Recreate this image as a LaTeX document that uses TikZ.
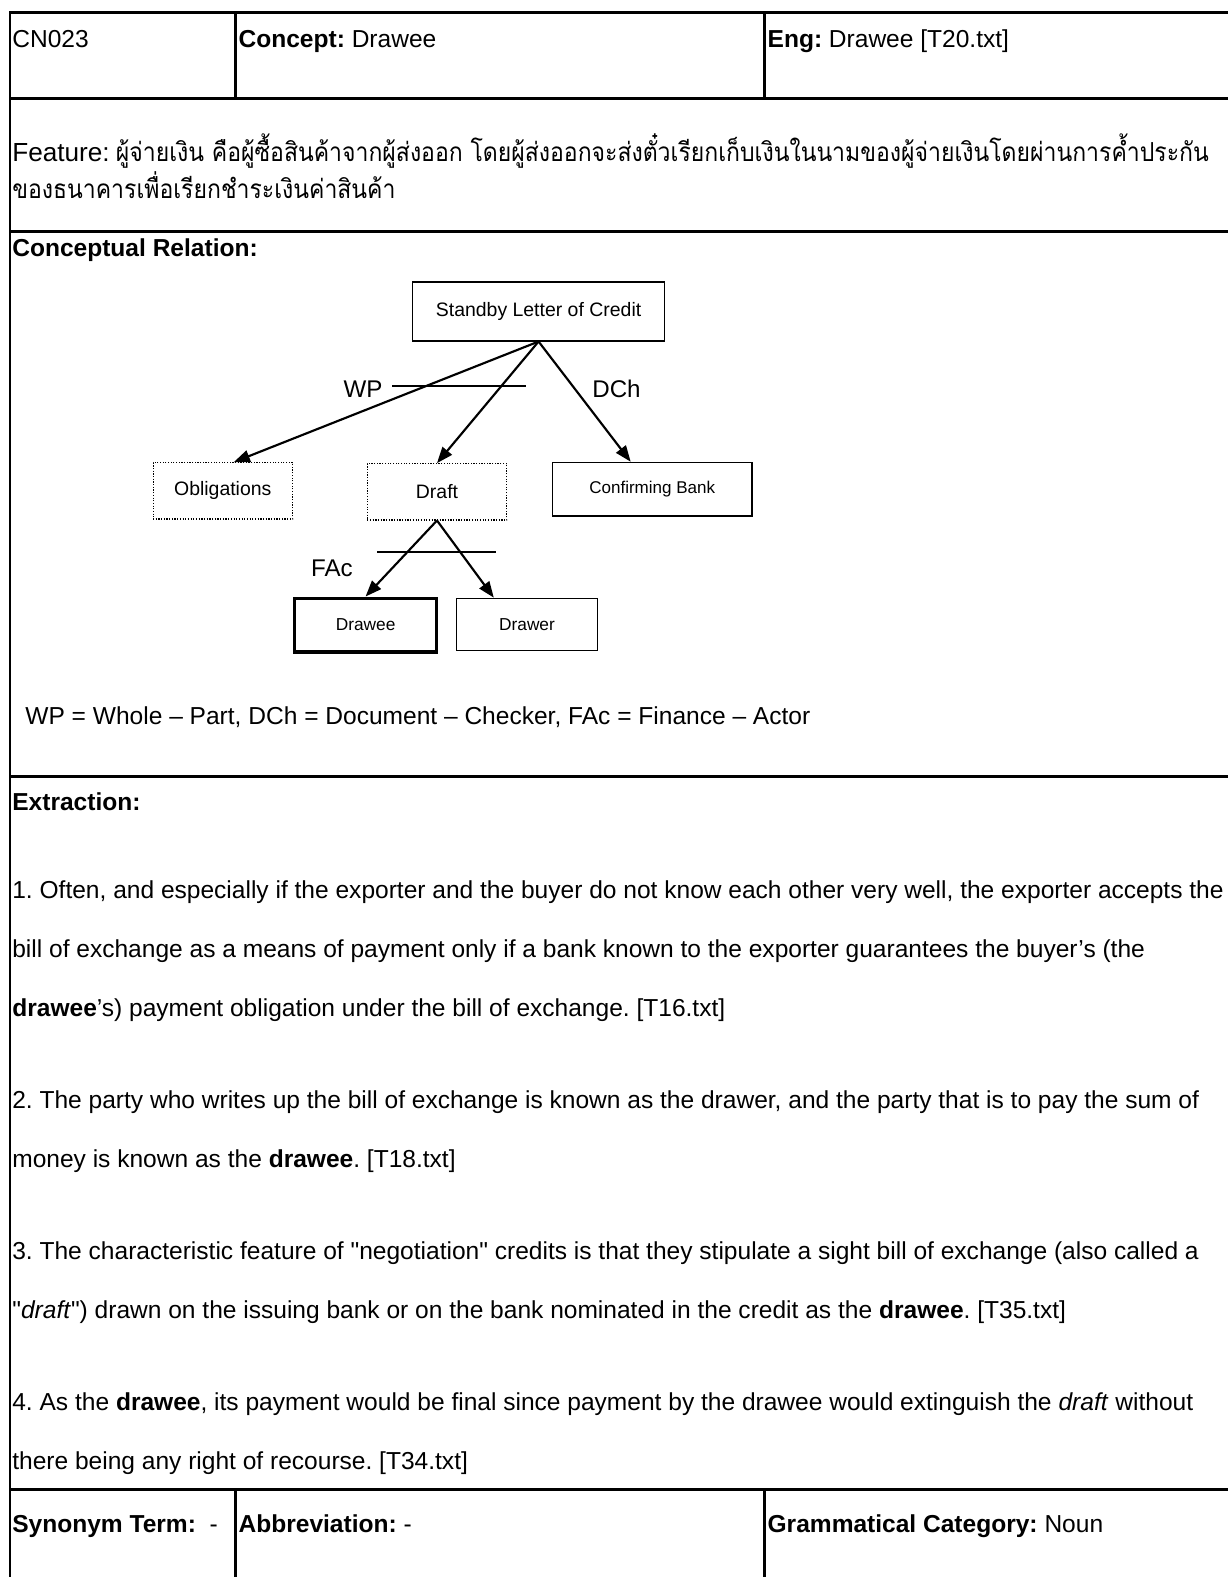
\documentclass[tikz,border=0pt]{standalone}
\usepackage{fontspec}
\setmainfont{Liberation Sans}
\newfontfamily\thaifont[Script=Thai,FakeStretch=0.88]{Loma}
\usetikzlibrary{arrows.meta}
\frenchspacing

\begin{document}
\begin{tikzpicture}[x=0.75pt,y=-0.75pt,
  rule/.style={line width=2.2pt},
  txt/.style={anchor=base west, inner sep=0pt, font=\fontsize{18.3}{22}\selectfont},
  thai/.style={anchor=base west, inner sep=0pt, font=\thaifont\fontsize{19.5}{22}\selectfont},
  lbl/.style={inner sep=0pt, font=\fontsize{18}{22}\selectfont},
  box/.style={draw, line width=1.1pt, inner sep=0pt},
  dotbox/.style={draw, line width=0.8pt, dash pattern=on 0.9pt off 1.1pt, inner sep=0pt},
  rel/.style={line width=1.6pt, -{Triangle[length=12pt,width=9pt]}},
  bar/.style={line width=1.1pt}]

\useasboundingbox (0,0) rectangle (1221,1568);

% table frame
\draw[rule] (9,12) -- (1221,12);
\draw[line width=1.8pt] (10,12) -- (10,1568);
\foreach \yy in {98,230,772,1481} \draw[rule] (10,\yy) -- (1221,\yy);
\foreach \xx in {234,760} {
  \draw[rule] (\xx,12) -- (\xx,98);
  \draw[rule] (\xx,1481) -- (\xx,1568);
}

% header row
\node[txt] (id)  at (12,47)  {CN023};
\node[txt] (con) at (237,47) {\textbf{Concept:} Drawee};
\node[txt] (eng) at (763,47) {\textbf{Eng:} Drawee [T20.txt]};

% feature
\node[txt, font=\fontsize{19.5}{22}\selectfont] (feat) at (12,161) {Feature:};
\node[thai] (th1) at (115,161)
  {ผู้จ่ายเงิน คือผู้ซื้อสินค้าจากผู้ส่งออก โดยผู้ส่งออกจะส่งตั๋วเรียกเก็บเงินในนามของผู้จ่ายเงินโดยผ่านการค้ำประกัน};
\node[thai] (th2) at (12,197)
  {ของธนาคารเพื่อเรียกชำระเงินค่าสินค้า};

% conceptual relation
\node[txt] (crh) at (12,255) {\textbf{Conceptual Relation:}};

\node[box, minimum width=188pt, minimum height=44pt, font=\fontsize{14.5}{16}\selectfont]
  (std) at (535.5,309.5) {Standby Letter of Credit};
\node[dotbox, minimum width=104pt, minimum height=42pt, font=\fontsize{14.5}{16}\selectfont]
  (obl) at (221.5,488) {Obligations};
\node[dotbox, minimum width=104pt, minimum height=42pt, font=\fontsize{14.5}{16}\selectfont]
  (dft) at (434.5,489) {Draft};
\node[box, minimum width=149pt, minimum height=40pt, font=\fontsize{12.7}{14}\selectfont]
  (cfb) at (648.5,486.5) {Confirming Bank};
\node[box, line width=2.6pt, minimum width=106pt, minimum height=40pt, font=\fontsize{12.9}{14}\selectfont]
  (dwe) at (363.5,621.5) {\raisebox{-2pt}{Drawee}};
\node[box, minimum width=105pt, minimum height=39pt, font=\fontsize{12.9}{14}\selectfont]
  (dwr) at (524,621) {Drawer};

\draw[rel] (std.south) -- (obl.69);
\draw[rel] (std.south) -- (dft.north);
\draw[rel] (std.south) -- (cfb.128);
\draw[rel] (dft.south) -- (dwe.north);
\draw[rel] (dft.south) -- (dwr.141);

\draw[bar] (390,384) -- (523,384);
\draw[bar] (375,549) -- (493,549);

\node[lbl] (wp)  at (361,387) {WP};
\node[lbl] (dch) at (613,387) {DCh};
\node[lbl] (fac) at (330,565) {FAc};

\node[txt] (leg) at (25,720) {WP = Whole – Part, DCh = Document – Checker, FAc = Finance – Actor};

% extraction
\node[txt] (exh) at (12,806) {\textbf{Extraction:}};

\node[txt] (p1a) at (12,893)  {1. Often, and especially if the exporter and the buyer do not know each other very well, the exporter accepts the};
\node[txt] (p1b) at (12,952)  {bill of exchange as a means of payment only if a bank known to the exporter guarantees the buyer’s (the};
\node[txt] (p1c) at (12,1011) {\textbf{drawee}’s) payment obligation under the bill of exchange. [T16.txt]};

\node[txt] (p2a) at (12,1102) {2. The party who writes up the bill of exchange is known as the drawer, and the party that is to pay the sum of};
\node[txt] (p2b) at (12,1161) {money is known as the \textbf{drawee}. [T18.txt]};

\node[txt] (p3a) at (12,1252) {3. The characteristic feature of \textquotedbl negotiation\textquotedbl{} credits is that they stipulate a sight bill of exchange (also called a};
\node[txt] (p3b) at (12,1311) {\textquotedbl\textit{draft}\textquotedbl) drawn on the issuing bank or on the bank nominated in the credit as the \textbf{drawee}. [T35.txt]};

\node[txt] (p4a) at (12,1402) {4. As the \textbf{drawee}, its payment would be final since payment by the drawee would extinguish the \textit{draft} without};
\node[txt] (p4b) at (12,1461) {there being any right of recourse. [T34.txt]};

% bottom row
\node[txt] (syn) at (12,1524)  {\textbf{Synonym Term:}\ \ -};
\node[txt] (abb) at (237,1524) {\textbf{Abbreviation:} -};
\node[txt] (gra) at (763,1524) {\textbf{Grammatical Category:} Noun};

\end{tikzpicture}
\end{document}
